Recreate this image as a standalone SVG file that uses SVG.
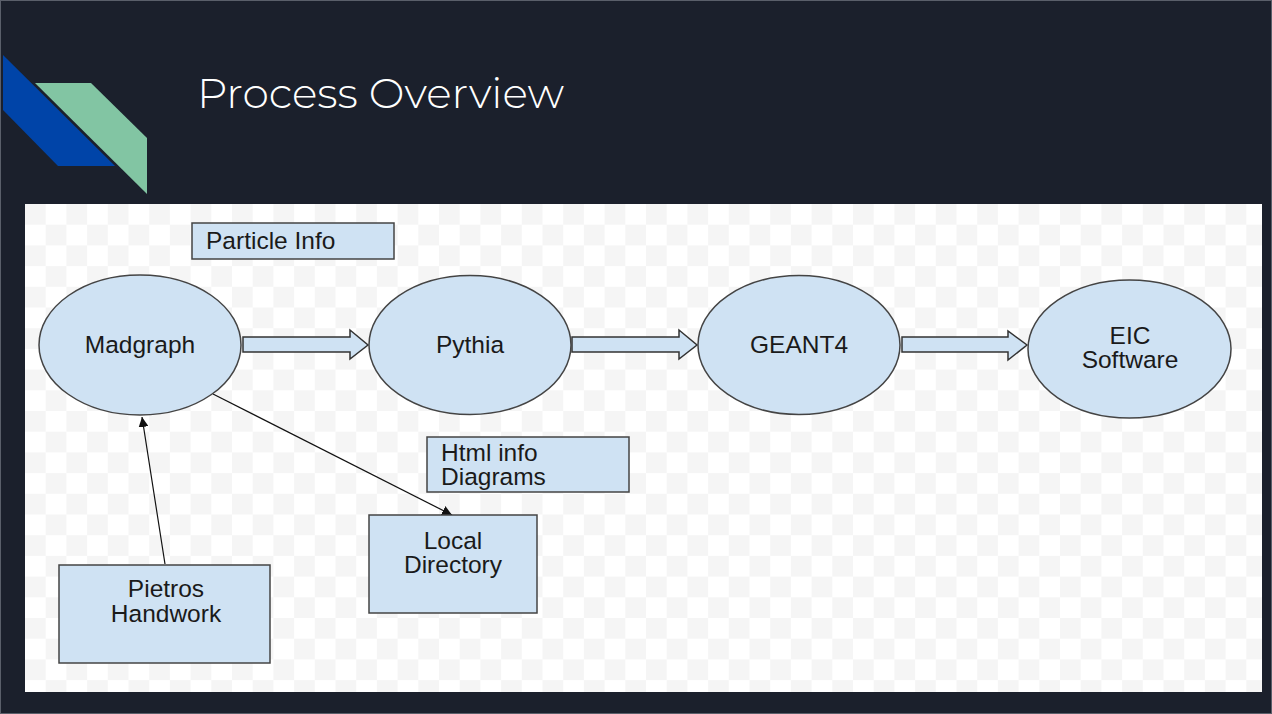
<svg xmlns="http://www.w3.org/2000/svg" width="1272" height="714" viewBox="0 0 1272 714">
  <defs>
    <pattern id="checker" x="25" y="204" width="41.4" height="41.4" patternUnits="userSpaceOnUse">
      <rect width="41.4" height="41.4" fill="#ffffff"/>
      <rect width="20.7" height="20.7" fill="#f5f5f5"/>
      <rect x="20.7" y="20.7" width="20.7" height="20.7" fill="#f5f5f5"/>
    </pattern>
    <marker id="arr" viewBox="0 0 10 10" refX="10" refY="5" markerWidth="10" markerHeight="10" markerUnits="userSpaceOnUse" orient="auto">
      <path d="M0,0 L10,5 L0,10 z" fill="#111"/>
    </marker>
    <style>
      .node { fill: #cfe2f3; stroke: #444; stroke-width: 1.5; }
      .blk { fill: #cfe2f3; stroke: #333; stroke-width: 1.5; stroke-linejoin: miter; }
      .lbl { font-family: "Liberation Sans", Arial, sans-serif; font-size: 24.5px; fill: #1a1a1a; }
      .c { text-anchor: middle; }
      .line { stroke: #111; stroke-width: 1.2; fill: none; }
    </style>
  </defs>

  <rect x="0" y="0" width="1272" height="714" fill="#1b202c"/>
  <rect x="0.5" y="0.5" width="1271" height="713" fill="none" stroke="#5a5f6a" stroke-width="1"/>

  <!-- decoration -->
  <polygon points="3,55 115,166 58,166 3,110" fill="#0044a8"/>
  <polygon points="35,83 91,83 147,138 147,194" fill="#82c5a3"/>

  <text x="197" y="108" font-family="Montserrat, 'Open Sans', sans-serif" font-weight="300" font-size="42" fill="#ffffff" textLength="367" lengthAdjust="spacingAndGlyphs">Process Overview</text>

  <!-- image panel -->
  <rect x="25" y="204" width="1237" height="488" fill="url(#checker)"/>

  <!-- connectors -->
  <g id="connectors">
    <polygon class="blk" points="243,337 350,337 350,330 368,345 350,359 350,352 243,352"/>
    <polygon class="blk" points="572,337 679,337 679,330 697,345 679,359 679,352 572,352"/>
    <polygon class="blk" points="902,337 1008,337 1008,331 1027,345 1008,360 1008,352 902,352"/>
    <line class="line" x1="165" y1="564" x2="142" y2="417" marker-end="url(#arr)"/>
    <line class="line" x1="213" y1="394" x2="452" y2="515" marker-end="url(#arr)"/>
  </g>

  <g id="madgraph">
    <ellipse class="node" cx="140" cy="345" rx="101" ry="70"/>
    <text class="lbl c" x="140" y="353">Madgraph</text>
  </g>
  <g id="pythia">
    <ellipse class="node" cx="470" cy="345" rx="101" ry="69.5"/>
    <text class="lbl c" x="470" y="353">Pythia</text>
  </g>
  <g id="geant4">
    <ellipse class="node" cx="799" cy="345" rx="101" ry="69.5"/>
    <text class="lbl c" x="799" y="353">GEANT4</text>
  </g>
  <g id="eic">
    <ellipse class="node" cx="1129.5" cy="349" rx="101.5" ry="69"/>
    <text class="lbl c" x="1130" y="344">EIC</text>
    <text class="lbl c" x="1130" y="368">Software</text>
  </g>
  <g id="particle-info">
    <rect class="node" x="192" y="223" width="202" height="36"/>
    <text class="lbl" x="206" y="249">Particle Info</text>
  </g>
  <g id="html-info">
    <rect class="node" x="427" y="437" width="202" height="55"/>
    <text class="lbl" x="441" y="461">Html info</text>
    <text class="lbl" x="441" y="485">Diagrams</text>
  </g>
  <g id="local-directory">
    <rect class="node" x="369" y="515" width="168" height="98"/>
    <text class="lbl c" x="453" y="549">Local</text>
    <text class="lbl c" x="453" y="573">Directory</text>
  </g>
  <g id="pietros-handwork">
    <rect class="node" x="59" y="565" width="211" height="98"/>
    <text class="lbl c" x="166" y="597">Pietros</text>
    <text class="lbl c" x="166" y="622">Handwork</text>
  </g>
</svg>
